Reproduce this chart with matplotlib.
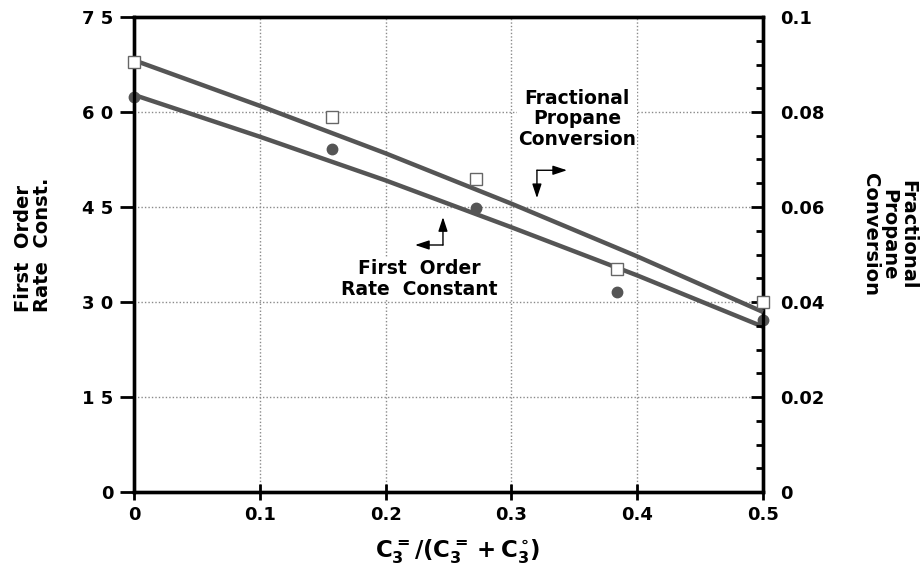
import matplotlib
matplotlib.use("Agg")
import matplotlib.pyplot as plt

# ---- data ----
x_pts = [0.0, 0.157, 0.272, 0.384, 0.5]
rate_const = [62.4, 54.1, 44.8, 31.6, 27.2]          # left axis, filled circles
propane_conv = [0.0906, 0.0790, 0.0660, 0.0470, 0.0401]  # right axis, open squares

curve_x = [0.0, 0.1, 0.2, 0.3, 0.4, 0.5]
rate_fit = [62.7, 56.1, 49.2, 41.8, 34.2, 26.1]
conv_fit = [0.0909, 0.0813, 0.0713, 0.0607, 0.0496, 0.0379]

x_ticks = [0, 0.1, 0.2, 0.3, 0.4, 0.5]
x_ticklabels = ["0", "0.1", "0.2", "0.3", "0.4", "0.5"]
left_ticks = [0, 15, 30, 45, 60, 75]
left_ticklabels = ["0", "1 5", "3 0", "4 5", "6 0", "7 5"]
right_ticks = [0, 0.02, 0.04, 0.06, 0.08, 0.1]
right_ticklabels = ["0", "0.02", "0.04", "0.06", "0.08", "0.1"]

plt.rcParams['font.family'] = ['DejaVu Sans']
plt.rcParams['font.weight'] = 'bold'
plt.rcParams['mathtext.fontset'] = 'custom'
plt.rcParams['mathtext.it'] = 'DejaVu Sans:bold'
plt.rcParams['mathtext.rm'] = 'DejaVu Sans:bold'
plt.rcParams['mathtext.bf'] = 'DejaVu Sans:bold'

W, H = 923, 570
fig = plt.figure(figsize=(W / 100, H / 100), dpi=100)
L, R, T, B = 134, 763, 17, 492
ax = fig.add_axes([L / W, 1 - B / H, (R - L) / W, (B - T) / H])
ax2 = ax.twinx()

line_col = '#555555'
fs = 13

ax.set_xlim(0, 0.5)
ax.set_ylim(0, 75)
ax2.set_ylim(0, 0.1)

ax.grid(True, linestyle=(0, (1, 1.5)), color='#8a8a8a', linewidth=1.0)
ax.set_axisbelow(True)

ax.plot(curve_x, rate_fit, color=line_col, lw=3.2, solid_capstyle='butt', zorder=3, clip_on=False)
ax.plot(x_pts, rate_const, 'o', color=line_col, ms=7.5, zorder=5, clip_on=False)
ax2.plot(curve_x, conv_fit, color=line_col, lw=3.2, solid_capstyle='butt', zorder=3, clip_on=False)
ax2.plot(x_pts, propane_conv, 's', mfc='white', mec='#666666', mew=1.0, ms=8, zorder=5, clip_on=False)

for a in (ax, ax2):
    for s in a.spines.values():
        s.set_linewidth(2.4)
        s.set_color('black')

ax.set_xticks(x_ticks)
ax.set_xticklabels(x_ticklabels, fontsize=fs, fontweight='bold')
ax.set_yticks(left_ticks)
ax.set_yticklabels(left_ticklabels, fontsize=fs, fontweight='bold')
ax.tick_params(axis='x', direction='inout', length=12, width=2, pad=4)
ax.tick_params(axis='y', direction='out', length=10, width=2, pad=5)

ax2.set_yticks(right_ticks)
ax2.set_yticklabels(right_ticklabels, fontsize=fs, fontweight='bold')
ax2.set_yticks([i * 0.005 for i in range(21) if i % 4 != 0], minor=True)
ax2.tick_params(axis='y', which='major', direction='in', length=9, width=2, pad=12)
ax2.tick_params(axis='y', which='minor', direction='in', length=5, width=2)

# annotations
box = dict(facecolor='white', edgecolor='none', pad=1)
ax.text(0.3522, 58.9, "Fractional\nPropane\nConversion", ha='center', va='center',
        fontsize=13.5, fontweight='bold', linespacing=1.12, bbox=box, zorder=4)
ax.text(0.227, 33.6, "First  Order\nRate  Constant", ha='center', va='center',
        fontsize=13.5, fontweight='bold', linespacing=1.12, bbox=box, zorder=4)

aprops = dict(arrowstyle="-|>,head_length=0.85,head_width=0.28", color='black',
              lw=1.0, shrinkA=0, shrinkB=0, mutation_scale=10)
# Fractional arrows
ax.annotate("", xy=(0.3442, 50.8), xytext=(0.3203, 50.8), arrowprops=aprops, zorder=6)
ax.annotate("", xy=(0.3203, 46.4), xytext=(0.3203, 50.8), arrowprops=aprops, zorder=6)
# First order arrows
ax.annotate("", xy=(0.2456, 43.4), xytext=(0.2456, 39.0), arrowprops=aprops, zorder=6)
ax.annotate("", xy=(0.2234, 39.0), xytext=(0.2456, 39.0), arrowprops=aprops, zorder=6)

# axis labels
fig.text(33 / W, 1 - 245 / H, "First  Order\nRate  Const.", rotation=90, ha='center', va='center',
         fontsize=14, fontweight='bold', multialignment='left', linespacing=1.0)
fig.text(889 / W, 1 - 235 / H, "Fractional\nPropane\nConversion", rotation=-90, ha='center', va='center',
         fontsize=14, fontweight='bold', multialignment='center', linespacing=1.0)
fig.text(458 / W, 1 - 552 / H, r'$C_3^{=}/(C_3^{=}+C_3^{\circ})$', ha='center', va='center',
         fontsize=16.5)

fig.savefig("out.png", dpi=100)
